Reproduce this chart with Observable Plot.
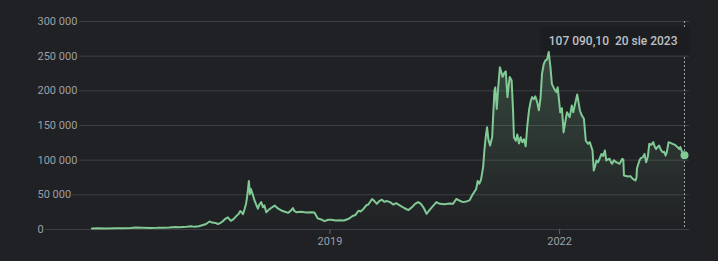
<!DOCTYPE html>
<html><head><meta charset="utf-8">
<script src="https://cdn.jsdelivr.net/npm/d3@7"></script>
<script src="https://cdn.jsdelivr.net/npm/@observablehq/plot@0.6"></script>
<style>
html,body{margin:0;padding:0;background:#202124;}
#chart{width:718px;height:261px;}
</style></head><body><div id="chart"></div>
<script>
const dates = [
"2015-11-22","2015-12-20","2016-01-30","2016-03-15","2016-04-20","2016-05-25","2016-06-18","2016-07-20","2016-08-25","2016-09-30",
"2016-10-28","2016-11-25","2016-12-25","2017-01-10","2017-02-15","2017-03-10","2017-03-25","2017-04-15","2017-05-05","2017-05-20",
"2017-06-05","2017-06-18","2017-07-05","2017-07-15","2017-07-30","2017-08-10","2017-08-20","2017-09-01","2017-09-15","2017-09-28",
"2017-10-13","2017-10-22","2017-10-30","2017-11-05","2017-11-12","2017-11-20","2017-11-27","2017-12-01","2017-12-06","2017-12-10",
"2017-12-15","2017-12-20","2017-12-27","2018-01-06","2018-01-14","2018-01-22","2018-01-29","2018-02-07","2018-02-15","2018-02-22",
"2018-03-03","2018-03-17","2018-03-26","2018-04-12","2018-04-29","2018-05-14","2018-05-28","2018-06-15","2018-06-26","2018-07-08",
"2018-07-14","2018-07-24","2018-08-17","2018-09-10","2018-10-03","2018-10-19","2018-11-04","2018-11-20","2018-12-06","2018-12-24",
"2019-01-06","2019-01-29","2019-02-22","2019-03-09","2019-04-01","2019-04-19","2019-05-03","2019-05-17","2019-05-27","2019-06-11",
"2019-06-24","2019-07-03","2019-07-21","2019-08-01","2019-08-13","2019-08-24","2019-09-06","2019-09-17","2019-10-01","2019-10-15",
"2019-10-30","2019-11-13","2019-12-02","2019-12-21","2020-01-10","2020-01-27","2020-02-11","2020-02-26","2020-03-10","2020-03-24",
"2020-04-06","2020-04-17","2020-05-01","2020-05-23","2020-06-08","2020-07-01","2020-07-25","2020-08-10","2020-08-26","2020-09-11",
"2020-09-27","2020-10-14","2020-10-28","2020-11-11","2020-11-29","2020-12-06","2020-12-14","2020-12-22","2021-01-01","2021-01-07",
"2021-01-14","2021-01-20","2021-01-26","2021-02-03","2021-02-13","2021-02-19","2021-02-24","2021-02-28","2021-03-07","2021-03-14",
"2021-03-22","2021-03-28","2021-04-04","2021-04-11","2021-04-19","2021-04-27","2021-05-02","2021-05-08","2021-05-17","2021-05-24",
"2021-05-28","2021-06-06","2021-06-13","2021-06-21","2021-06-29","2021-07-07","2021-07-15","2021-07-23","2021-07-31","2021-08-08",
"2021-08-16","2021-08-23","2021-08-31","2021-09-07","2021-09-16","2021-09-24","2021-10-02","2021-10-09","2021-10-17","2021-10-25",
"2021-11-02","2021-11-10","2021-11-18","2021-11-25","2021-12-03","2021-12-11","2021-12-17","2021-12-23","2022-01-04","2022-01-12",
"2022-01-20","2022-01-28","2022-02-05","2022-02-13","2022-02-18","2022-02-23","2022-02-28","2022-03-07","2022-03-15","2022-03-21",
"2022-03-26","2022-04-02","2022-04-08","2022-04-16","2022-04-27","2022-05-06","2022-05-17","2022-05-25","2022-06-07","2022-06-13",
"2022-06-20","2022-06-26","2022-07-04","2022-07-20","2022-07-28","2022-08-05","2022-08-12","2022-08-20","2022-08-28","2022-09-03",
"2022-09-09","2022-09-17","2022-09-28","2022-10-06","2022-10-14","2022-10-20","2022-10-27","2022-11-01","2022-11-04","2022-11-23",
"2022-12-05","2022-12-16","2022-12-29","2023-01-03","2023-01-05","2023-01-09","2023-01-17","2023-01-23","2023-02-02","2023-02-10",
"2023-02-18","2023-02-26","2023-03-05","2023-03-14","2023-03-24","2023-03-30","2023-04-06","2023-04-13","2023-04-21","2023-04-29",
"2023-05-07","2023-05-15","2023-05-22","2023-05-28","2023-06-05","2023-06-14","2023-06-24","2023-07-06","2023-07-18","2023-07-26",
"2023-07-31","2023-08-07","2023-08-20"
];
const prices = [
1500,1700,1500,1650,1750,2000,2900,2600,2250,2350,
2700,2900,3600,3200,4000,4800,3800,4700,6500,8000,
11500,10000,9500,7800,10000,12500,15500,17500,12500,15000,
20000,22500,26500,25000,22000,30000,38000,46000,58000,70000,
51000,58500,52000,42000,36000,30000,36000,39500,32000,35000,
25000,29000,31000,34500,30000,27500,26000,24000,26500,31000,
27000,25000,25500,24500,25000,24500,16000,14500,12000,14000,
14000,13000,13500,13000,15500,19500,21000,27000,26000,30000,
35000,36000,44000,41000,37000,41000,43000,40000,41000,39500,
36000,38000,34500,31000,28000,32000,37000,39500,37000,31000,
22500,27000,32000,39500,37000,36500,37500,37000,44000,41500,
39500,40500,42000,50000,58500,70000,66000,72000,90000,114000,
135000,147500,130000,121000,133000,170000,200000,205000,174000,205000,
234000,228000,220000,225000,228000,191000,205000,220000,215000,170000,
133000,128000,137000,124000,133000,126000,130000,120000,150000,172000,
185000,191000,188000,192000,183600,172000,190000,224600,238000,243800,
245000,256000,235000,210000,205000,200500,198000,205000,169000,175000,
140000,155000,169000,165000,162000,170000,179000,169000,180000,188000,
194700,182000,171600,165000,159700,128000,123600,126000,114000,85000,
92000,99500,97000,109000,106000,114000,99500,101000,102000,97000,
94800,100000,97000,96000,94800,98000,102000,101000,78000,76400,
77000,73000,70700,75000,87500,92000,99500,103000,104000,109000,
97000,105000,123600,122000,126000,120000,116000,119000,121000,115000,
111500,112000,106700,112000,126000,125000,123600,122000,118700,116000,
119000,113000,107090.10
];
const yTicks = [0, 50000, 100000, 150000, 200000, 250000, 300000];
const xTicks = ["2019-01-01", "2022-01-01"];
const xDomain = ["2015-11-20", "2023-08-20"];
const tipValue = "107 090,10";
const tipDate = "20 sie 2023";

const data = dates.map((d, i) => ({date: new Date(d), value: prices[i]}));
const last = data[data.length - 1];

const nb = "\u00a0";
const fmt = d3.formatLocale({decimal: ",", thousands: nb, grouping: [3], currency: ["", " zł"]}).format(",d");
const tipLabel = () => tipValue + nb + nb + tipDate;

const bg = "#202124", grid = "#3c4043", green = "#81c995", label = "#9aa0a6";

const gradDefs = () => {
  const defs = d3.create("svg:defs");
  const g = defs.append("linearGradient").attr("id", "fadeGreen")
    .attr("x1", 0).attr("x2", 0).attr("y1", 0).attr("y2", 1);
  g.append("stop").attr("offset", "0%").attr("stop-color", green).attr("stop-opacity", 0.24);
  g.append("stop").attr("offset", "100%").attr("stop-color", green).attr("stop-opacity", 0);
  return defs.node();
};

const tipOpts = {x: "date", frameAnchor: "top", text: tipLabel, textAnchor: "end", dx: -7, dy: 15, fontSize: 12, fontWeight: 500};

const chart = Plot.plot({
  width: 718,
  height: 261,
  marginLeft: 91,
  marginRight: 34,
  marginTop: 21,
  marginBottom: 32,
  style: {background: bg, color: label, fontFamily: "Roboto, Arial, sans-serif", fontSize: "11px"},
  x: {type: "utc", domain: xDomain.map(d => new Date(d)), axis: null},
  y: {domain: [0, 300000], axis: null},
  marks: [
    gradDefs,
    Plot.ruleY(yTicks.filter(v => v >= 100000), {stroke: grid, insetLeft: -12, insetRight: -5}),
    Plot.ruleY(yTicks.filter(v => v === 50000), {stroke: grid, insetLeft: -19, insetRight: -5}),
    Plot.ruleY(yTicks.filter(v => v === 0), {stroke: grid, insetLeft: -46, insetRight: -5}),
    Plot.text(yTicks, {y: d => d, text: d => fmt(d), frameAnchor: "left", textAnchor: "start", dx: -54, fill: label, fontSize: 11}),
    Plot.axisX(xTicks.map(d => new Date(d)), {tickSize: 5, tickPadding: 3, tickFormat: "%Y", stroke: "#5f6368", fill: label, fontSize: 11}),
    Plot.ruleX([last], {x: "date", stroke: label, strokeDasharray: "2,2", strokeWidth: 1}),
    Plot.text([last], {...tipOpts, fill: "none", className: "tipbox"}),
    Plot.areaY(data, {x: "date", y: "value", fill: "url(#fadeGreen)"}),
    Plot.lineY(data, {x: "date", y: "value", stroke: green, strokeWidth: 2, strokeLinejoin: "round"}),
    Plot.text([last], {...tipOpts, fill: "#bdc1c6"}),
    Plot.dot([last], {x: "date", y: "value", r: 4, fill: green})
  ]
});
document.getElementById("chart").append(chart);

// tooltip box behind the label, sized from the (invisible) copy of the label
const tip = chart.querySelector("g.tipbox") || chart.querySelector(".tipbox");
if (tip) {
  const bb = tip.getBBox();
  const rect = document.createElementNS("http://www.w3.org/2000/svg", "rect");
  rect.setAttribute("x", bb.x - 8);
  rect.setAttribute("y", bb.y - 7);
  rect.setAttribute("width", bb.width + 20);
  rect.setAttribute("height", bb.height + 14);
  rect.setAttribute("fill", "#1c1d20");
  tip.insertBefore(rect, tip.firstChild);
}
</script>
</body></html>
